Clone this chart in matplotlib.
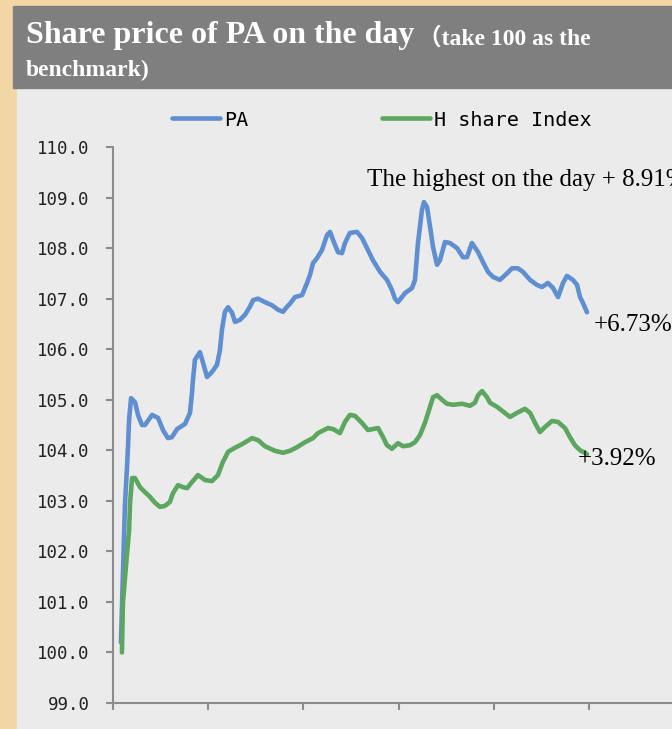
import matplotlib
matplotlib.use("Agg")
import matplotlib.pyplot as plt
from matplotlib.patches import Rectangle

# trading minutes from the open (240-minute day), values with 100 as the benchmark
pa_minutes = [4.0, 6.0, 7.1, 7.6, 8.1, 9.1, 11.1, 12.6, 14.6, 16.1, 19.7, 22.7, 25.2, 27.7,
              29.7, 32.3, 36.3, 38.8, 39.8, 40.3, 41.3, 43.8, 45.4, 47.4, 49.9, 52.4, 53.9,
              54.9, 56.4, 58.0, 60.0, 61.5, 64.0, 66.5, 69.0, 70.6, 73.1, 76.6, 80.1, 83.2,
              85.7, 87.7, 89.2, 91.7, 95.3, 97.8, 99.3, 100.8, 102.8, 105.3, 107.9, 109.4,
              110.9, 113.4, 115.4, 116.9, 119.4, 123.0, 125.5, 128.0, 131.0, 134.6, 138.1,
              140.6, 142.1, 143.6, 147.2, 150.7, 152.2, 153.7, 155.7, 156.7, 158.3, 159.8,
              161.3, 163.3, 164.8, 167.3, 169.8, 173.4, 176.4, 178.4, 180.9, 184.0, 186.5,
              189.0, 191.5, 195.0, 198.6, 201.1, 204.1, 206.6, 210.2, 213.7, 216.2, 219.2,
              221.8, 224.3, 226.8, 228.8, 231.8, 233.9, 235.4, 236.9, 238.9]
pa_values = [100.2, 102.9, 103.7, 104.1, 104.6, 105.03, 104.95, 104.7, 104.5, 104.5, 104.7,
             104.64, 104.4, 104.24, 104.26, 104.42, 104.52, 104.74, 105.13, 105.39, 105.79,
             105.94, 105.73, 105.45, 105.55, 105.69, 105.98, 106.38, 106.74, 106.83, 106.72,
             106.54, 106.58, 106.68, 106.84, 106.97, 107.0, 106.93, 106.87, 106.78, 106.74,
             106.84, 106.9, 107.03, 107.07, 107.31, 107.47, 107.7, 107.8, 107.96, 108.26,
             108.32, 108.16, 107.92, 107.9, 108.1, 108.3, 108.32, 108.2, 108.0, 107.76,
             107.53, 107.37, 107.17, 107.0, 106.93, 107.11, 107.21, 107.37, 108.1, 108.75,
             108.91, 108.81, 108.42, 108.02, 107.67, 107.76, 108.12, 108.1, 108.0, 107.82,
             107.82, 108.1, 107.92, 107.72, 107.53, 107.43, 107.37, 107.5, 107.6, 107.6,
             107.53, 107.37, 107.27, 107.23, 107.31, 107.21, 107.03, 107.31, 107.45, 107.37,
             107.27, 107.03, 106.91, 106.73]

h_minutes = [4.5, 5.0, 7.1, 8.1, 8.6, 9.6, 11.1, 13.6, 15.1, 18.6, 21.2, 23.7, 26.2, 28.7,
             30.2, 32.8, 35.3, 37.3, 39.8, 42.8, 46.4, 49.9, 52.9, 55.4, 58.0, 61.5, 65.0,
             70.1, 73.1, 76.6, 81.6, 85.7, 89.2, 92.7, 96.8, 100.8, 103.3, 108.4, 110.9,
             114.4, 116.9, 119.4, 122.0, 125.5, 128.5, 131.0, 133.6, 136.1, 138.1, 140.6,
             143.6, 146.2, 149.7, 152.2, 154.7, 157.2, 159.3, 161.3, 163.3, 165.8, 168.3,
             171.4, 175.9, 179.9, 182.4, 184.0, 186.0, 188.5, 190.0, 193.5, 200.1, 203.6,
             207.6, 210.2, 212.7, 215.2, 217.7, 221.3, 224.3, 227.8, 230.3, 232.8, 235.4,
             237.9, 238.9]
h_values = [100.0, 100.98, 101.97, 102.42, 102.96, 103.45, 103.45, 103.27, 103.21, 103.08,
            102.96, 102.88, 102.9, 102.98, 103.15, 103.31, 103.27, 103.25, 103.37, 103.51,
            103.41, 103.39, 103.51, 103.77, 103.97, 104.05, 104.12, 104.24, 104.2, 104.08,
            103.99, 103.95, 103.99, 104.06, 104.16, 104.24, 104.34, 104.44, 104.42, 104.34,
            104.56, 104.7, 104.68, 104.54, 104.4, 104.42, 104.44, 104.26, 104.1, 104.03,
            104.14, 104.08, 104.1, 104.16, 104.3, 104.54, 104.8, 105.05, 105.09, 105.0,
            104.92, 104.9, 104.92, 104.88, 104.94, 105.09, 105.17, 105.05, 104.94, 104.86,
            104.66, 104.74, 104.82, 104.74, 104.54, 104.36, 104.46, 104.58, 104.56, 104.44,
            104.26, 104.1, 104.0, 103.95, 103.92]

y_ticks = [99.0, 100.0, 101.0, 102.0, 103.0, 104.0, 105.0, 106.0, 107.0, 108.0, 109.0, 110.0]
x_ticks = [0, 48, 96, 144, 192, 240]

W, H = 672, 729
fig = plt.figure(figsize=(W / 100, H / 100), dpi=100)
fig.patch.set_facecolor('#f3d6a6')


def fbox(x0, y0, x1, y1):
    # pixel box (top-left origin) -> figure fractions
    return (x0 / W, 1 - y1 / H), (x1 - x0) / W, (y1 - y0) / H


xy, w, h = fbox(17, 88, W, H)
fig.add_artist(Rectangle(xy, w, h, transform=fig.transFigure, color='#ebebeb', zorder=-2))
xy, w, h = fbox(13, 6, W, 88)
fig.add_artist(Rectangle(xy, w, h, transform=fig.transFigure, color='#7f7f7f', zorder=-2))

serif = ['Liberation Serif', 'Noto Sans CJK SC']
fig.canvas.draw()
rend = fig.canvas.get_renderer()
t1 = fig.text(26 / W, 1 - 36 / H, 'Share price of PA on the day', color='white',
              fontsize=23, fontweight='bold', family=serif, va='center', ha='left')
bb = t1.get_window_extent(rend)
fig.text((bb.x1 + 4) / W, 1 - 38 / H, '（take 100 as the', color='white',
         fontsize=17, fontweight='bold', family=serif, va='center', ha='left')
fig.text(26 / W, 1 - 70 / H, 'benchmark)', color='white', fontsize=17,
         fontweight='bold', family=serif, va='center', ha='left')

ax = fig.add_axes([113 / W, 26 / H, (W - 113) / W, 556 / H])
ax.set_facecolor('none')
ax.plot(pa_minutes, pa_values, color='#5f8fd0', lw=3.3, label='PA',
        solid_capstyle='round', solid_joinstyle='round')
ax.plot(h_minutes, h_values, color='#5ca65f', lw=3.3, label='H share Index',
        solid_capstyle='round', solid_joinstyle='round')

ax.set_xlim(0, (W - 113) * 0.504)
ax.set_ylim(99, 110)
ax.set_yticks(y_ticks)
ax.set_yticklabels([f'{v:.1f}' for v in y_ticks], family='DejaVu Sans Mono',
                   fontsize=12.5, color='#222222')
ax.set_xticks(x_ticks)
ax.set_xticklabels([])
for s in ['top', 'right']:
    ax.spines[s].set_visible(False)
for s in ['left', 'bottom']:
    ax.spines[s].set_color('#8c8c8c')
    ax.spines[s].set_linewidth(1.5)
ax.tick_params(axis='both', direction='out', length=5, width=1.5, color='#8c8c8c')
ax.tick_params(axis='y', pad=12)

ax.text(128, 109.35, 'The highest on the day + 8.91%', family='Liberation Serif',
        fontsize=18, va='center', ha='left', clip_on=False)
ax.text(242.4, 106.48, '+6.73%', family='Liberation Serif', fontsize=18,
        va='center', ha='left', clip_on=False)
ax.text(234.4, 103.83, '+3.92%', family='Liberation Serif', fontsize=18,
        va='center', ha='left', clip_on=False)

ax.legend(loc='center left', bbox_to_anchor=(172 / W, 1 - 120 / H),
          bbox_transform=fig.transFigure, ncol=2, frameon=False, borderpad=0,
          borderaxespad=0, handlelength=2.4, handletextpad=0.2, columnspacing=6.6,
          prop={'family': 'DejaVu Sans Mono', 'size': 14.5})

fig.savefig('out.png', dpi=100, facecolor=fig.get_facecolor())
